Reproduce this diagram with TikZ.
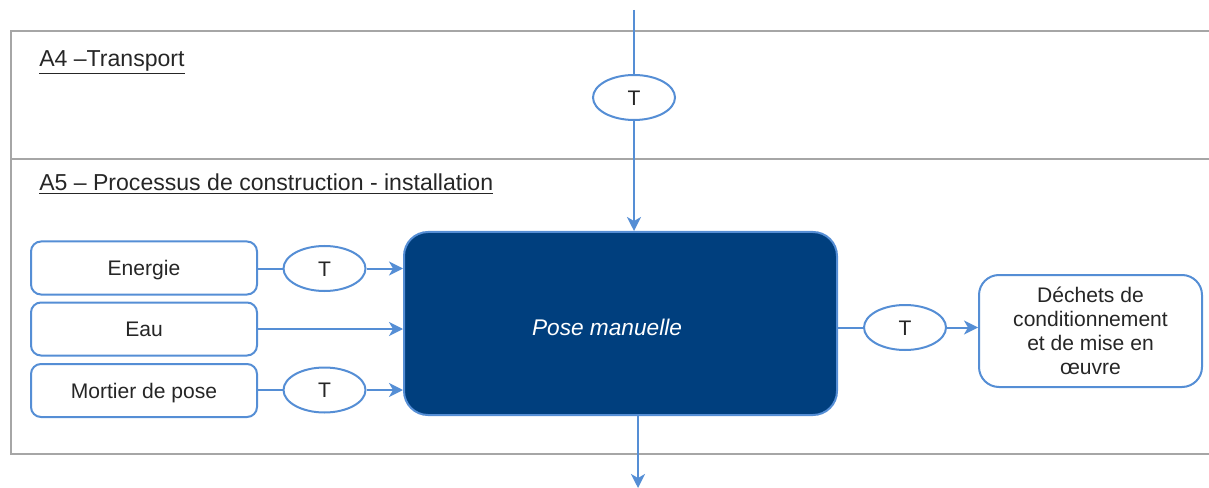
\documentclass[tikz,border=0pt]{standalone}
\usepackage{fontspec}
\setmainfont{Liberation Sans}
\usetikzlibrary{shapes.geometric,arrows.meta}
\definecolor{lblue}{RGB}{85,142,213}
\definecolor{dblue}{RGB}{0,63,126}
\definecolor{frame}{RGB}{166,166,166}
\definecolor{txt}{RGB}{38,38,38}
\tikzset{
  boxbase/.style={draw=lblue, line width=1.5pt, fill=white, inner sep=0pt,
    font=\fontsize{15.8}{18}\selectfont, text=txt},
  inbox/.style={boxbase, rounded corners=7.5pt,
    minimum width=169.5pt, minimum height=39.75pt, text height=11.3pt, text depth=0pt},
  tell/.style={boxbase, ellipse, minimum width=61.5pt, minimum height=33.75pt,
    text height=11.3pt, text depth=0pt},
  conn/.style={draw=lblue, line width=1.5pt},
  arr/.style={conn, -{Stealth[length=10.5pt,width=10.5pt,inset=3pt]}},
  lbl/.style={anchor=base west, inner sep=0pt, font=\fontsize{17.3}{20}\selectfont, text=txt},
}
\begin{document}
\begin{tikzpicture}[x=0.75pt,y=-0.75pt]
\useasboundingbox (0,0) rectangle (1209,488);
% frame
\draw[frame, line width=1.5pt] (1209,31) -- (11,31) -- (11,454) -- (1209,454);
\draw[frame, line width=2.2pt] (11,159) -- (1209,159);
\node[lbl] (la4) at (39,67) {\underline{A4 –Transport}};
\node[lbl] (la5) at (39,191) {\underline{A5 – Processus de construction - installation}};
% nodes
\node[draw=lblue, line width=1.5pt, fill=dblue, rounded corners=18pt,
  minimum width=324.75pt, minimum height=137.25pt, inner sep=0pt] (main) at (620.5,323.5) {};
\node[text=white, font=\fontsize{17}{19}\selectfont\itshape, inner sep=0pt] (pm) at (607,327) {Pose manuelle};
\node[inbox] (ener) at (144,268) {Energie};
\node[inbox] (eau) at (144,329) {Eau};
\node[inbox] (mort) at (144,390.5) {Mortier de pose};
\node[tell] (t1) at (324.5,268.5) {T};
\node[tell] (t3) at (324.5,390) {T};
\node[tell] (t4) at (634,97.5) {T};
\node[tell] (t5) at (905,327.5) {T};
\node[boxbase, minimum width=167.25pt, minimum height=84pt, rounded corners=15pt,
  align=center] (dech) at (1090.5,331) {Déchets de\\conditionnement\\et de mise en\\œuvre};
\coordinate (top) at (634,10);
\coordinate (bot) at (638,488);
% connectors
\draw[conn] (top) -- (t4.north);
\draw[arr] (t4.south) -- (t4.south |- main.north);
\draw[arr] (main.south -| bot) -- (bot);
\draw[conn] (ener.east |- t1) -- (t1.west);
\draw[arr] (t1.east) -- (main.west |- t1);
\draw[arr] (eau.east) -- (main.west |- eau);
\draw[conn] (mort.east |- t3) -- (t3.west);
\draw[arr] (t3.east) -- (main.west |- t3);
\draw[conn] (main.east |- t5) -- (t5.west);
\draw[arr] (t5.east) -- (dech.west |- t5);
\end{tikzpicture}
\end{document}
